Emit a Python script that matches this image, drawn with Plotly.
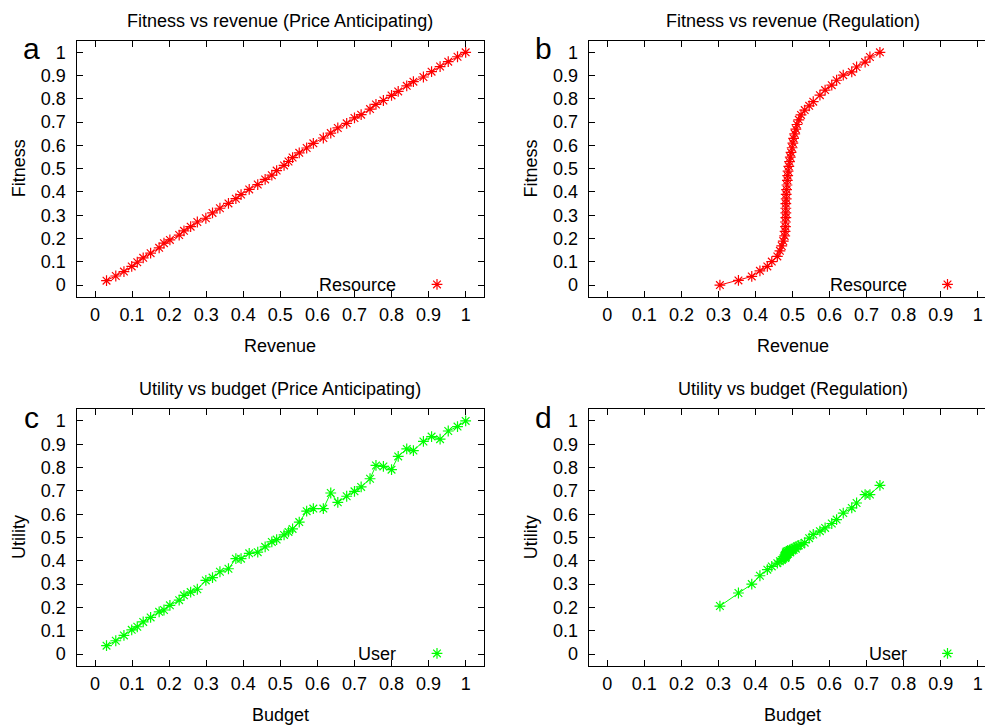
import plotly.graph_objects as go

W, H = 985, 725

# ---------------- data ----------------
revenue_pa = [0.031, 0.056, 0.078, 0.099, 0.114, 0.130, 0.150, 0.173, 0.186, 0.202,
              0.227, 0.240, 0.258, 0.276, 0.299, 0.317, 0.337, 0.360, 0.380, 0.394,
              0.416, 0.439, 0.459, 0.477, 0.490, 0.510, 0.522, 0.533, 0.551, 0.571,
              0.589, 0.616, 0.636, 0.655, 0.679, 0.700, 0.718, 0.742, 0.758, 0.778,
              0.800, 0.818, 0.841, 0.859, 0.886, 0.908, 0.931, 0.953, 0.978, 1.000]
fitness_pa = [0.019, 0.039, 0.058, 0.080, 0.098, 0.117, 0.137, 0.160, 0.180, 0.194,
              0.215, 0.233, 0.251, 0.271, 0.287, 0.310, 0.330, 0.351, 0.371, 0.389,
              0.411, 0.432, 0.454, 0.472, 0.492, 0.514, 0.531, 0.548, 0.568, 0.589,
              0.609, 0.632, 0.653, 0.675, 0.695, 0.718, 0.732, 0.756, 0.776, 0.793,
              0.815, 0.832, 0.856, 0.874, 0.894, 0.917, 0.939, 0.960, 0.981, 1.000]
budget_pa = revenue_pa
utility_pa = [0.036, 0.057, 0.080, 0.104, 0.117, 0.138, 0.157, 0.181, 0.189, 0.209,
              0.231, 0.252, 0.266, 0.278, 0.316, 0.328, 0.353, 0.366, 0.409, 0.409,
              0.432, 0.437, 0.460, 0.481, 0.491, 0.511, 0.524, 0.537, 0.566, 0.613,
              0.624, 0.624, 0.691, 0.651, 0.677, 0.698, 0.717, 0.752, 0.809, 0.805,
              0.791, 0.848, 0.880, 0.873, 0.912, 0.933, 0.922, 0.957, 0.976, 1.000]

revenue_reg = [0.304, 0.354, 0.390, 0.412, 0.432, 0.444, 0.459, 0.466, 0.471, 0.475,
               0.479, 0.480, 0.481, 0.481, 0.482, 0.482, 0.482, 0.482, 0.483, 0.483,
               0.484, 0.485, 0.486, 0.487, 0.488, 0.490, 0.492, 0.494, 0.496, 0.499,
               0.501, 0.503, 0.506, 0.509, 0.512, 0.517, 0.523, 0.533, 0.545, 0.556,
               0.574, 0.588, 0.606, 0.619, 0.637, 0.660, 0.673, 0.696, 0.709, 0.736]
fitness_reg = [0.000, 0.020, 0.037, 0.061, 0.080, 0.101, 0.123, 0.147, 0.168, 0.189,
               0.211, 0.231, 0.251, 0.271, 0.290, 0.310, 0.330, 0.350, 0.370, 0.390,
               0.410, 0.430, 0.450, 0.470, 0.490, 0.510, 0.530, 0.550, 0.570, 0.590,
               0.610, 0.630, 0.650, 0.670, 0.690, 0.710, 0.731, 0.752, 0.770, 0.788,
               0.816, 0.838, 0.859, 0.880, 0.902, 0.916, 0.937, 0.958, 0.980, 1.000]
budget_reg = revenue_reg
utility_reg = [0.206, 0.262, 0.300, 0.336, 0.362, 0.376, 0.390, 0.398, 0.404, 0.410,
               0.418, 0.412, 0.425, 0.420, 0.430, 0.415, 0.428, 0.436, 0.422, 0.432,
               0.440, 0.426, 0.434, 0.442, 0.430, 0.438, 0.446, 0.436, 0.450, 0.444,
               0.452, 0.447, 0.456, 0.452, 0.462, 0.466, 0.470, 0.478, 0.497, 0.513,
               0.527, 0.541, 0.560, 0.577, 0.605, 0.627, 0.648, 0.684, 0.684, 0.724]

tick_vals = [0, 0.1, 0.2, 0.3, 0.4, 0.5, 0.6, 0.7, 0.8, 0.9, 1]
tick_text = ["0", "0.1", "0.2", "0.3", "0.4", "0.5", "0.6", "0.7", "0.8", "0.9", "1"]

RED = "#ff0000"
GREEN = "#00ff00"
FONT = "Liberation Sans, Arial, Helvetica, sans-serif"
FS = 18

panels = [
    dict(x=revenue_pa, y=fitness_pa, color=RED, label="Resource",
         title="Fitness vs revenue (Price Anticipating)", xt="Revenue", yt="Fitness",
         letter="a", box=(76.5, 40.7, 484.2, 296.7), xr=(-0.05, 1.05), clip=False),
    dict(x=revenue_reg, y=fitness_reg, color=RED, label="Resource",
         title="Fitness vs revenue (Regulation)", xt="Revenue", yt="Fitness",
         letter="b", box=(588.8, 40.7, 985.0, 296.7), xr=(-0.05, 1.0197), clip=True),
    dict(x=budget_pa, y=utility_pa, color=GREEN, label="User",
         title="Utility vs budget (Price Anticipating)", xt="Budget", yt="Utility",
         letter="c", box=(76.5, 409.3, 484.2, 665.7), xr=(-0.05, 1.05), clip=False),
    dict(x=budget_reg, y=utility_reg, color=GREEN, label="User",
         title="Utility vs budget (Regulation)", xt="Budget", yt="Utility",
         letter="d", box=(588.8, 409.3, 985.0, 665.7), xr=(-0.05, 1.0197), clip=True),
]


def fx(px):
    return px / W


def fy(py):
    return (H - py) / H


fig = go.Figure()
annotations = []
layout = dict(
    width=W, height=H,
    margin=dict(l=0, r=0, t=0, b=0, pad=0),
    paper_bgcolor="white", plot_bgcolor="white",
    font=dict(family=FONT, size=FS, color="black"),
    showlegend=True,
)

for i, p in enumerate(panels, start=1):
    sfx = "" if i == 1 else str(i)
    xa, ya = "x" + sfx, "y" + sfx
    lg = "legend" + sfx
    l, t, r, b = p["box"]
    ox = 0 if not p["clip"] else 511.5
    fig.add_trace(go.Scatter(x=p["x"], y=p["y"], mode="lines", xaxis=xa, yaxis=ya,
                             line=dict(color=p["color"], width=1), showlegend=False,
                             hoverinfo="skip"))
    fig.add_trace(go.Scatter(x=p["x"], y=p["y"], mode="markers", xaxis=xa, yaxis=ya,
                             name="", legend=lg, showlegend=True,
                             marker=dict(symbol="asterisk-open", size=9, color=p["color"],
                                         line=dict(color=p["color"], width=1.2))))
    common = dict(showline=True, linecolor="black", linewidth=1.3,
                  ticks="inside", ticklen=6, tickwidth=1, tickcolor="black",
                  tickvals=tick_vals, ticktext=tick_text, showgrid=False, zeroline=False,
                  tickfont=dict(family=FONT, size=FS, color="black"), fixedrange=True,
                  automargin=False)
    layout["xaxis" + sfx] = dict(common, domain=[fx(l), fx(r)], range=list(p["xr"]),
                                 anchor=ya, mirror="ticks", ticklabelstandoff=2)
    layout["yaxis" + sfx] = dict(common, domain=[fy(b), fy(t)], range=[-0.05, 1.05],
                                 anchor=xa, mirror=(False if p["clip"] else "ticks"),
                                 ticklabelstandoff=6)
    layout[lg] = dict(x=fx(462 + ox - (1 if p["clip"] else 0)), y=fy(b - 12),
                      xanchor="right", yanchor="middle", bgcolor="rgba(0,0,0,0)",
                      font=dict(size=FS), itemwidth=30, tracegroupgap=0)
    annotations.append(dict(text=p["label"], x=fx(397.5 + ox), y=fy(b - 11.5), xref="paper",
                            yref="paper", xanchor="right", yanchor="middle",
                            showarrow=False, font=dict(size=FS)))
    cx = (l + 996.2) / 2 if p["clip"] else (l + r) / 2
    annotations.append(dict(text=p["title"], x=fx(cx), y=fy(t - 20), xref="paper",
                            yref="paper", xanchor="center", yanchor="middle",
                            showarrow=False, font=dict(size=FS)))
    annotations.append(dict(text=p["xt"], x=fx(cx), y=fy(b + 49), xref="paper",
                            yref="paper", xanchor="center", yanchor="middle",
                            showarrow=False, font=dict(size=FS)))
    annotations.append(dict(text=p["yt"], x=fx(l - 58), y=fy((t + b) / 2), xref="paper",
                            yref="paper", xanchor="center", yanchor="middle", textangle=-90,
                            showarrow=False, font=dict(size=FS)))
    annotations.append(dict(text=p["letter"], x=fx(l - 45), y=fy(t + 8), xref="paper",
                            yref="paper", xanchor="center", yanchor="middle",
                            showarrow=False, font=dict(size=30)))

layout["annotations"] = annotations
fig.update_layout(**layout)
fig.write_html("out.html",
               config={"displayModeBar": False},
               post_script="document.body.style.margin='0';document.body.style.overflow='hidden';")
